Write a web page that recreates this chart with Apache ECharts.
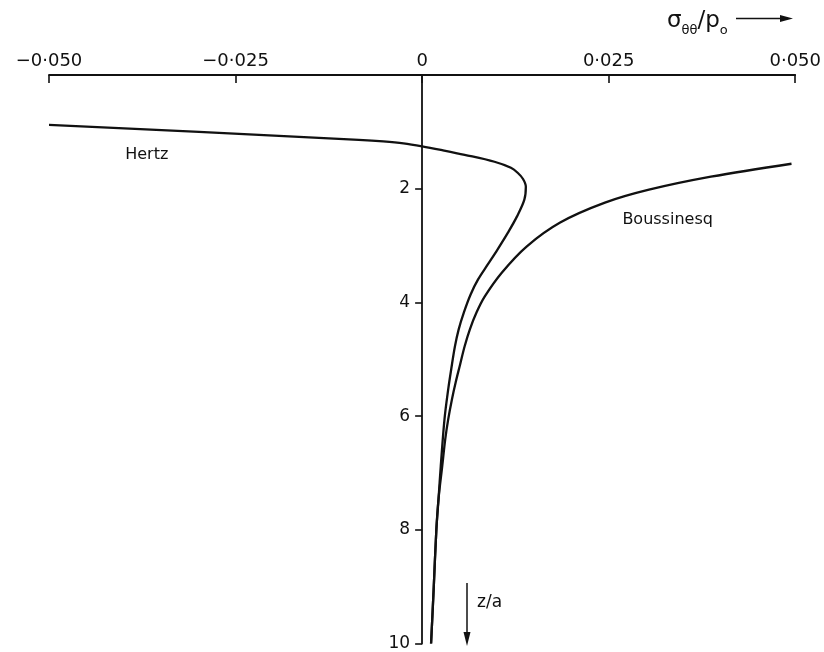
<!DOCTYPE html>
<html>
<head>
<meta charset="utf-8">
<script src="https://cdn.jsdelivr.net/npm/echarts@6/dist/echarts.min.js"></script>
<style>html,body{margin:0;padding:0;background:#fff}#c{width:824px;height:652px}</style>
</head>
<body>
<div id="c"></div>
<script>
// x ticks (sigma_theta_theta / p0) and y ticks (z/a)
const xTickValues = [-0.05, -0.025, 0, 0.025, 0.05];
const xTickLabels = ['\u22120\u00b7050', '\u22120\u00b7025', '0', '0\u00b7025', '0\u00b7050'];
const yTickValues = [0, 2, 4, 6, 8, 10];
const yTickLabels = ['', '2', '4', '6', '8', '10'];

// Hertz curve: [sigma/p0, z/a]
const hertzSigma = [-0.0500, -0.0299, -0.0165, -0.0085, -0.0052, -0.0025, 0.0000, 0.0028, 0.0057, 0.0097, 0.0119, 0.0128, 0.0135, 0.0139, 0.0137, 0.0127, 0.0115, 0.0101, 0.0088, 0.0075, 0.0065, 0.0056, 0.0049, 0.0044, 0.0039, 0.0035, 0.0030, 0.0025, 0.0022, 0.0019, 0.00155, 0.0012];
const hertzZ     = [0.877, 1.000, 1.088, 1.140, 1.168, 1.202, 1.254, 1.325, 1.404, 1.526, 1.632, 1.719, 1.825, 1.965, 2.193, 2.491, 2.772, 3.070, 3.333, 3.596, 3.860, 4.175, 4.474, 4.772, 5.175, 5.526, 6.053, 6.877, 7.456, 8.018, 9.035, 10.00];

// Boussinesq curve
const bousSigma = [0.0495, 0.0387, 0.0304, 0.0245, 0.0185, 0.0140, 0.0107, 0.0084, 0.0073, 0.0064, 0.0057, 0.0051, 0.0045, 0.0040, 0.0035, 0.0031, 0.0027, 0.0022, 0.0019, 0.00155, 0.0012];
const bousZ     = [1.561, 1.789, 2.018, 2.246, 2.596, 3.018, 3.474, 3.895, 4.175, 4.474, 4.772, 5.088, 5.404, 5.702, 6.053, 6.404, 6.877, 7.456, 8.018, 9.035, 10.00];

// curve labels
const curveNames = ['Hertz', 'Boussinesq'];
const labelSigma = [-0.0369, 0.0329];
const labelZ = [1.40, 2.54];

const zip = (a, b) => a.map((v, i) => [v, b[i]]);
const FONT = 'DejaVu Sans';
const INK = '#111';
const GRID_LEFT = 49;

const chart = echarts.init(document.getElementById('c'), null, {renderer: 'canvas'});
const option = {
  backgroundColor: '#fff',
  animation: false,
  grid: {left: GRID_LEFT, right: 25, top: 75, bottom: 7, containLabel: false},
  xAxis: {
    type: 'value', position: 'top', min: -0.05, max: 0.05, interval: 0.025,
    axisLine: {show: true, onZero: false, lineStyle: {color: INK, width: 1.8}},
    axisTick: {show: true, inside: true, length: 8, lineStyle: {color: INK, width: 1.6}},
    axisLabel: {
      margin: 5, fontFamily: FONT, fontSize: 18, color: INK,
      formatter: v => { const i = xTickValues.findIndex(t => Math.abs(t - v) < 1e-9); return i >= 0 ? xTickLabels[i] : ''; }
    },
    splitLine: {show: false}
  },
  yAxis: {
    type: 'value', inverse: true, min: 0, max: 10, interval: 2, position: 'left', offset: 0,
    axisLine: {show: true, onZero: false, lineStyle: {color: INK, width: 1.8}},
    axisTick: {show: true, inside: false, length: 7, lineStyle: {color: INK, width: 1.6}},
    axisLabel: {
      margin: 12, fontFamily: FONT, fontSize: 17, color: INK,
      formatter: v => { const i = yTickValues.findIndex(t => Math.abs(t - v) < 1e-9); return i >= 0 ? yTickLabels[i] : ''; }
    },
    splitLine: {show: false}
  },
  series: [
    {name: 'Hertz', type: 'line', data: zip(hertzSigma, hertzZ), smooth: 0.35, showSymbol: false,
     lineStyle: {color: INK, width: 2.3}},
    {name: 'Boussinesq', type: 'line', data: zip(bousSigma, bousZ), smooth: 0.35, showSymbol: false,
     lineStyle: {color: INK, width: 2.3}}
  ]
};
chart.setOption(option);

// place the y axis on sigma = 0 and the curve labels in data coordinates
const zeroPx = chart.convertToPixel({xAxisIndex: 0}, 0);
const labelGraphics = curveNames.map((n, i) => {
  const p = chart.convertToPixel({gridIndex: 0}, [labelSigma[i], labelZ[i]]);
  return {type: 'text', x: p[0], y: p[1], style: {text: n, fontFamily: FONT, fontSize: 16, fill: INK, align: 'center', verticalAlign: 'middle'}};
});

chart.setOption({
  yAxis: {offset: -(zeroPx - GRID_LEFT)},
  graphic: labelGraphics.concat([
    {type: 'text', x: 667, y: 7, style: {
      text: '{s|\u03c3}{b|\u03b8\u03b8}{s|/p}{b|o}',
      rich: {
        s: {fontFamily: FONT, fontSize: 23, fill: INK, verticalAlign: 'bottom', lineHeight: 26},
        b: {fontFamily: FONT, fontSize: 13, fill: INK, verticalAlign: 'bottom', lineHeight: 26, padding: [0, 0, -4, 0]}
      }
    }},
    {type: 'line', shape: {x1: 736, y1: 18.5, x2: 786, y2: 18.5}, style: {stroke: INK, lineWidth: 1.4}},
    {type: 'polygon', shape: {points: [[780, 15], [793, 18.5], [780, 22]]}, style: {fill: INK}},
    {type: 'line', shape: {x1: 467, y1: 583, x2: 467, y2: 636}, style: {stroke: INK, lineWidth: 1.5}},
    {type: 'polygon', shape: {points: [[463.5, 632], [467, 646], [470.5, 632]]}, style: {fill: INK}},
    {type: 'text', x: 477, y: 594, style: {text: 'z/a', fontFamily: FONT, fontSize: 17, fill: INK}}
  ])
});
</script>
</body>
</html>
